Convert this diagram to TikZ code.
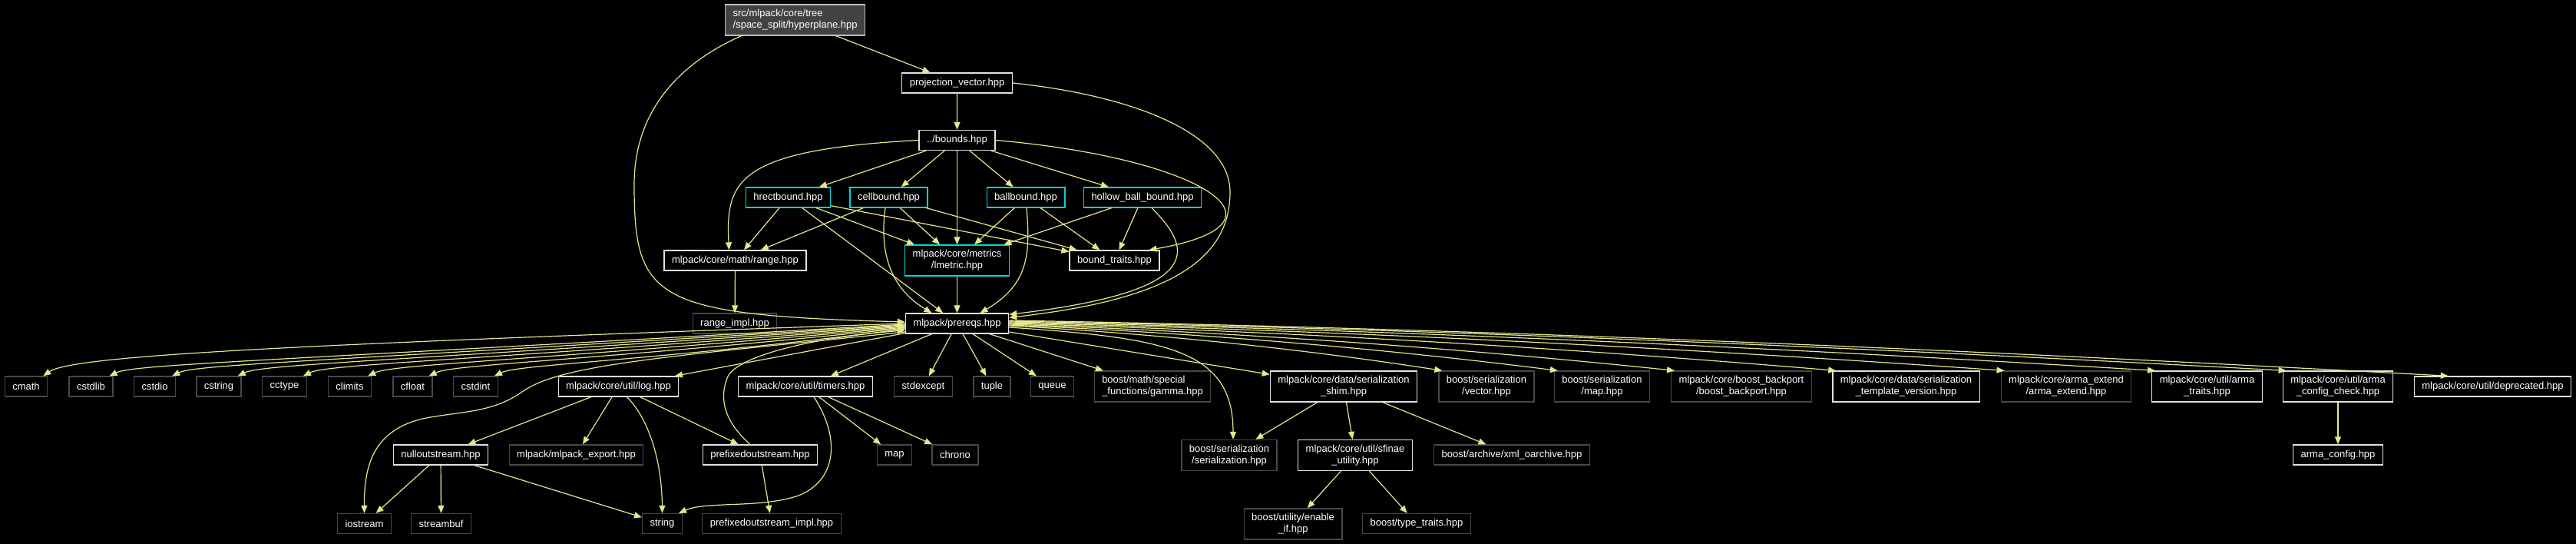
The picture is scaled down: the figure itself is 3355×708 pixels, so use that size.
\documentclass[tikz,border=0pt]{standalone}
\usepackage{fontspec}
\setmainfont{Liberation Sans}
\usepackage{tikz}
\usetikzlibrary{arrows.meta}
\definecolor{EdgeKhaki}{RGB}{230,230,140}
\definecolor{BoxWhite}{RGB}{225,225,225}
\definecolor{BoxCyan}{RGB}{0,215,215}
\definecolor{BoxGrey}{RGB}{72,72,72}
\definecolor{RootFill}{RGB}{66,66,66}
\definecolor{RootBorder}{RGB}{190,190,190}

\begin{document}
\begin{tikzpicture}[
  x=1pt, y=-1pt,
  font=\fontsize{13}{15}\selectfont,
  >={Triangle[length=10pt,width=8pt]},
  hdr/.style={
    rectangle, draw=BoxWhite, line width=1.3pt, fill=black, text=white,
    inner xsep=10pt, inner ysep=3pt, minimum height=26pt, align=center
  },
  hdrbound/.style={hdr, draw=BoxCyan},
  hdrsys/.style={hdr, draw=BoxGrey},
  hdrroot/.style={hdr, draw=RootBorder, fill=RootFill, align=left},
  twoline/.style={minimum height=40pt},
  edge/.style={->, draw=EdgeKhaki, line width=1.2pt}
]

\fill[black] (0,0) rectangle (3355,708);

% Root file and the bounds layer
\node[hdrroot, twoline] (hyperplane) at (1035.6,26) {src/mlpack/core/tree\\/space\_split/hyperplane.hpp};
\node[hdr] (projvec) at (1246.6,108) {projection\_vector.hpp};
\node[hdr] (bounds) at (1246.5,182.5) {../bounds.hpp};

\node[hdrbound] (hrect) at (1026.5,257) {hrectbound.hpp};
\node[hdrbound] (cellb) at (1157.5,257) {cellbound.hpp};
\node[hdrbound] (ballb) at (1336,257) {ballbound.hpp};
\node[hdrbound] (hollowb) at (1488,257) {hollow\_ball\_bound.hpp};

\node[hdr] (range) at (957.5,339) {mlpack/core/math/range.hpp};
\node[hdrbound, twoline] (lmetric) at (1246.5,339) {mlpack/core/metrics\\/lmetric.hpp};
\node[hdr] (btraits) at (1451.5,339) {bound\_traits.hpp};

\node[hdrsys] (rangeimpl) at (957,421) {range\_impl.hpp};
\node[hdr] (prereqs) at (1246.5,421) {mlpack/prereqs.hpp};

% Everything pulled in by prereqs.hpp
\node[hdrsys] (cmath) at (34,503) {cmath};
\node[hdrsys] (cstdlib) at (118.5,503) {cstdlib};
\node[hdrsys] (cstdio) at (201.5,503) {cstdio};
\node[hdrsys] (cstring) at (285,503) {cstring};
\node[hdrsys] (cctype) at (370.5,503) {cctype};
\node[hdrsys] (climits) at (455.5,503) {climits};
\node[hdrsys] (cfloat) at (537.5,503) {cfloat};
\node[hdrsys] (cstdint) at (619.5,503) {cstdint};
\node[hdr] (log) at (805.5,503) {mlpack/core/util/log.hpp};
\node[hdr] (timers) at (1049,503) {mlpack/core/util/timers.hpp};
\node[hdrsys] (stdexcept) at (1202.5,503) {stdexcept};
\node[hdrsys] (tuple) at (1292,503) {tuple};
\node[hdrsys] (queue) at (1370.5,503) {queue};
\node[hdrsys, twoline, align=left] (gamma) at (1501,503) {boost/math/special\\\_functions/gamma.hpp};
\node[hdr, twoline] (shim) at (1750,503) {mlpack/core/data/serialization\\\_shim.hpp};
\node[hdrsys, twoline] (svector) at (1936,503) {boost/serialization\\/vector.hpp};
\node[hdrsys, twoline] (smap) at (2086.5,503) {boost/serialization\\/map.hpp};
\node[hdrsys, twoline] (backport) at (2268,503) {mlpack/core/boost\_backport\\/boost\_backport.hpp};
\node[hdr, twoline] (tversion) at (2482.5,503) {mlpack/core/data/serialization\\\_template\_version.hpp};
\node[hdrsys, twoline] (armaext) at (2691,503) {mlpack/core/arma\_extend\\/arma\_extend.hpp};
\node[hdr, twoline] (armatraits) at (2874.5,503) {mlpack/core/util/arma\\\_traits.hpp};
\node[hdr, twoline] (armacheck) at (3045,503) {mlpack/core/util/arma\\\_config\_check.hpp};
\node[hdr] (deprecated) at (3246.5,503) {mlpack/core/util/deprecated.hpp};

% Second level below
\node[hdr] (nullout) at (574,592) {nulloutstream.hpp};
\node[hdrsys] (export) at (750.5,592) {mlpack/mlpack\_export.hpp};
\node[hdr] (prefout) at (990,592) {prefixedoutstream.hpp};
\node[hdrsys] (stdmap) at (1165,592) {map};
\node[hdrsys] (chrono) at (1244,592) {chrono};
\node[hdrsys, twoline] (sserial) at (1601,592.5) {boost/serialization\\/serialization.hpp};
\node[hdr, twoline] (sfinae) at (1765,592.5) {mlpack/core/util/sfinae\\\_utility.hpp};
\node[hdrsys] (xmlo) at (1969,592) {boost/archive/xml\_oarchive.hpp};
\node[hdr] (armacfg) at (3045,592) {arma\_config.hpp};

\node[hdrsys] (iostream) at (474.5,681.5) {iostream};
\node[hdrsys] (streambuf) at (574.5,681.5) {streambuf};
\node[hdrsys] (string) at (862.5,681.5) {string};
\node[hdrsys] (prefimpl) at (1005,681.5) {prefixedoutstream\_impl.hpp};
\node[hdrsys, twoline] (enableif) at (1684,682) {boost/utility/enable\\\_if.hpp};
\node[hdrsys] (typetraits) at (1845,681.5) {boost/type\_traits.hpp};

% --- edges ---
\draw[edge] (hyperplane) -- (projvec);
\draw[edge] ([xshift=-70pt]hyperplane.south) .. controls (890,80) and (826,140) .. (826,240)
  .. controls (826,390) and (850,410) .. ([yshift=2pt]prereqs.west);
\draw[edge] (projvec) -- (bounds);
\draw[edge] (projvec.east) .. controls (1480,125) and (1602,175) .. (1602,250)
  .. controls (1602,340) and (1520,390) .. ([yshift=-6pt]prereqs.north east);

\draw[edge] (bounds) -- (hrect);
\draw[edge] (bounds) -- (cellb);
\draw[edge] (bounds) -- (lmetric);
\draw[edge] (bounds) -- (ballb);
\draw[edge] (bounds) -- (hollowb);
\draw[edge] (bounds.west) .. controls (960,195) and (945,235) .. ([xshift=-8pt]range.north);
\draw[edge] (bounds.east) .. controls (1560,205) and (1700,290) .. ([xshift=45pt]btraits.north);

\draw[edge] (hrect) -- (range);
\draw[edge] (hrect) -- (lmetric);
\draw[edge] (hrect) -- (btraits);
\draw[edge] (hrect) -- (prereqs);
\draw[edge] (cellb) -- (range);
\draw[edge] (cellb) -- (lmetric);
\draw[edge] (cellb) -- (btraits);
\draw[edge] ([xshift=-4.5pt]cellb.south) .. controls (1145,330) and (1160,375) .. ([xshift=-33pt]prereqs.north);
\draw[edge] (ballb) -- (lmetric);
\draw[edge] (ballb) -- (btraits);
\draw[edge] ([xshift=1pt]ballb.south) .. controls (1342,330) and (1340,370) .. ([xshift=30pt]prereqs.north);
\draw[edge] (hollowb) -- (lmetric);
\draw[edge] (hollowb) -- (btraits);
\draw[edge] ([xshift=12pt]hollowb.south) .. controls (1560,330) and (1560,380) .. ([yshift=-2pt]prereqs.north east);

\draw[edge] (range) -- (rangeimpl);
\draw[edge] (lmetric) -- (prereqs);

% prereqs fan, left side
\draw[edge] (prereqs.west) .. controls (400,448) and (95,462) .. ([xshift=-6pt]cmath.north east);
\draw[edge] ([yshift=-1pt]prereqs.west) .. controls (349,470) and (174,474) .. ([xshift=-5pt]cstdlib.north east);
\draw[edge] ([yshift=-2pt]prereqs.west) .. controls (430,470) and (255,474) .. ([xshift=-5pt]cstdio.north east);
\draw[edge] ([yshift=-3pt]prereqs.west) .. controls (516,470) and (341,474) .. ([xshift=-5pt]cstring.north east);
\draw[edge] ([yshift=-4pt]prereqs.west) .. controls (601,470) and (426,474) .. ([xshift=-5pt]cctype.north east);
\draw[edge] ([yshift=-5pt]prereqs.west) .. controls (686,470) and (511,474) .. ([xshift=-5pt]climits.north east);
\draw[edge] ([yshift=-6pt]prereqs.west) .. controls (765,470) and (590,474) .. ([xshift=-5pt]cfloat.north east);
\draw[edge] ([yshift=-7pt]prereqs.west) .. controls (850,470) and (675,474) .. ([xshift=-5pt]cstdint.north east);
\draw[edge] ([yshift=-11pt]prereqs.west) .. controls (850,466) and (730,475) .. (680,510)
  .. controls (640,538) and (600,535) .. (550,545) .. controls (490,560) and (474,600) .. (iostream.north);
\draw[edge] (prereqs) -- (log);
\draw[edge] (prereqs) -- (timers);
\draw[edge] (prereqs) -- (stdexcept);
\draw[edge] (prereqs) -- (tuple);
\draw[edge] (prereqs) -- (queue);
\draw[edge] (prereqs) -- (gamma);
\draw[edge] (prereqs) -- (shim);

% prereqs fan, right side
\draw[edge] ([yshift=-5pt]prereqs.east) .. controls (1520,440) and (1606,455) .. ([xshift=5pt]sserial.north);
\draw[edge] ([yshift=-3pt]prereqs.east) .. controls +(187,10) and +(-187,-29) .. ([xshift=5pt]svector.north west);
\draw[edge] ([yshift=-2pt]prereqs.east) .. controls +(238,10) and +(-238,-30) .. ([xshift=5pt]smap.north west);
\draw[edge] ([yshift=-1pt]prereqs.east) .. controls +(288,10) and +(-288,-30) .. ([xshift=5pt]backport.north west);
\draw[edge] (prereqs.east) .. controls +(358,10) and +(-358,-30) .. ([xshift=5pt]tversion.north west);
\draw[edge] ([yshift=1pt]prereqs.east) .. controls +(432,10) and +(-432,-30) .. ([xshift=5pt]armaext.north west);
\draw[edge] ([yshift=2pt]prereqs.east) .. controls +(497,10) and +(-497,-30) .. ([xshift=5pt]armatraits.north west);
\draw[edge] ([yshift=3pt]prereqs.east) .. controls +(554,10) and +(-554,-30) .. ([xshift=5pt]armacheck.north west);
\draw[edge] ([yshift=4pt]prereqs.east) .. controls +(624,11) and +(-624,-34) .. ([xshift=45pt]deprecated.north west);

% log / timers branch
\draw[edge] (log) -- (nullout);
\draw[edge] (log) -- (export);
\draw[edge] (log) -- (prefout);
\draw[edge] ([xshift=11pt]log.south) .. controls (845,545) and (862,600) .. (string.north);
\draw[edge] (timers) -- (stdmap);
\draw[edge] (timers) -- (chrono);
\draw[edge] ([xshift=11pt]timers.south) .. controls (1095,570) and (1090,625) .. (1040,645)
  .. controls (990,662) and (920,652) .. ([xshift=-5pt]string.north east);
\draw[edge] (nullout) -- (iostream);
\draw[edge] (nullout) -- (streambuf);
\draw[edge] (nullout) -- (string);
\draw[edge] (prefout) -- (prefimpl);
\draw[edge] ([xshift=-13pt]prefout.north) .. controls (945,550) and (935,520) .. (948,490)
  .. controls (960,465) and (1050,440) .. ([yshift=-9pt]prereqs.west);

% serialization branch
\draw[edge] (shim) -- (sserial);
\draw[edge] (shim) -- (sfinae);
\draw[edge] (shim) -- (xmlo);
\draw[edge] (sfinae) -- (enableif);
\draw[edge] (sfinae) -- (typetraits);
\draw[edge] (armacheck) -- (armacfg);

\end{tikzpicture}
\end{document}
